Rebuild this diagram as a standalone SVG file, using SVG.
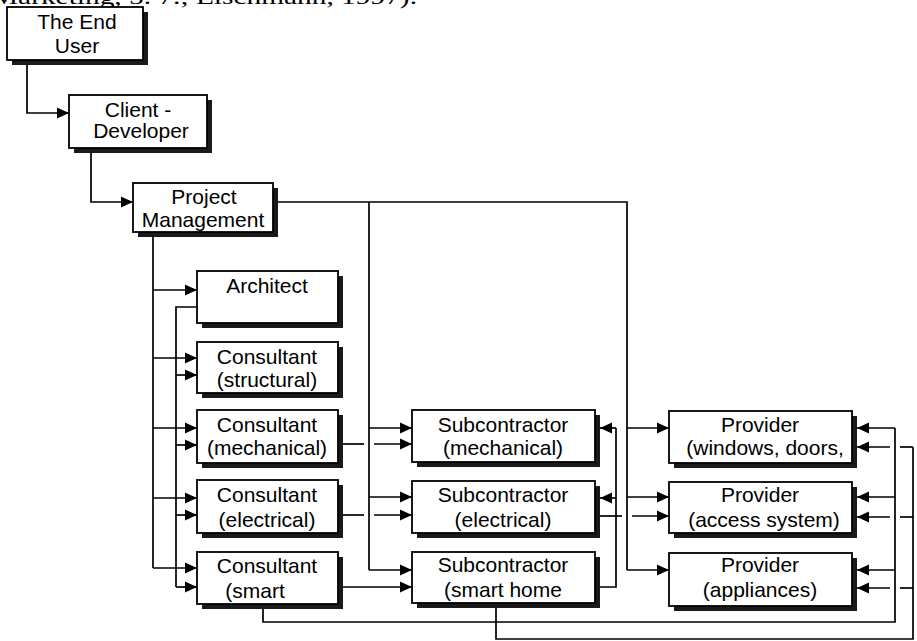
<svg xmlns="http://www.w3.org/2000/svg" width="917" height="641" viewBox="0 0 917 641">
<style>
.bg{fill:#fff}
.sh{fill:#1a1a1a}
.bx{fill:#fff;stroke:#000;stroke-width:1.8}
.t{font-family:"Liberation Sans",Arial,sans-serif;font-size:21px;fill:#000;text-anchor:middle}
.c{fill:none;stroke:#000;stroke-width:1.7}
.a{fill:none;stroke:#000;stroke-width:1.7;marker-end:url(#ah)}
.cap{font-family:"Liberation Serif","Times New Roman",serif;font-size:22px;fill:#000}
</style>
<defs>
<marker id="ah" markerUnits="userSpaceOnUse" markerWidth="13" markerHeight="12" refX="12" refY="6" orient="auto">
<path d="M0,0.5 L12,6 L0,11.5 z" fill="#000"/>
</marker>
</defs>
<rect class="bg" width="917" height="641"/>
<text class="cap" x="-8" y="4" textLength="425" lengthAdjust="spacingAndGlyphs">Marketing, 5. 7.; Eischmann, 1997).</text>

<g id="connectors">
<polyline class="a" points="27,60 27,113 69,113"/>
<polyline class="a" points="91,152 91,202 133,202"/>
<polyline class="c" points="278,202 627,202 627,570"/>
<line class="c" x1="369" y1="202" x2="369" y2="570"/>
<line class="c" x1="153" y1="236" x2="153" y2="568"/>
<polyline class="a" points="153,290 197,290"/>
<polyline class="a" points="153,358 197,358"/>
<polyline class="a" points="153,428 197,428"/>
<polyline class="a" points="153,498 197,498"/>
<polyline class="a" points="153,568 197,568"/>
<polyline class="c" points="197,307 176,307 176,587"/>
<polyline class="a" points="176,375 197,375"/>
<polyline class="a" points="176,445 197,445"/>
<polyline class="a" points="176,515 197,515"/>
<polyline class="a" points="176,587 197,587"/>
<line class="c" x1="343" y1="444" x2="364" y2="444"/>
<polyline class="a" points="374,444 412,444"/>
<line class="c" x1="343" y1="515" x2="364" y2="515"/>
<polyline class="a" points="374,515 412,515"/>
<polyline class="a" points="343,587 412,587"/>
<polyline class="a" points="369,428 412,428"/>
<polyline class="a" points="369,497 412,497"/>
<polyline class="a" points="369,570 412,570"/>
<polyline class="c" points="600,587 616,587 616,428"/>
<polyline class="a" points="616,428 600,428"/>
<polyline class="a" points="616,498 600,498"/>
<line class="c" x1="600" y1="516" x2="622" y2="516"/>
<polyline class="a" points="632,516 669,516"/>
<polyline class="a" points="627,428 669,428"/>
<polyline class="a" points="627,497 669,497"/>
<polyline class="a" points="627,570 669,570"/>
<polyline class="c" points="263,608 263,622 895,622 895,428"/>
<polyline class="a" points="895,428 857,428"/>
<polyline class="a" points="895,497 857,497"/>
<polyline class="a" points="895,570 857,570"/>
<polyline class="c" points="496,607 496,639 913,639 913,447"/>
<line class="c" x1="913" y1="447" x2="900" y2="447"/>
<polyline class="a" points="890,447 857,447"/>
<line class="c" x1="913" y1="517" x2="900" y2="517"/>
<polyline class="a" points="890,517 857,517"/>
<line class="c" x1="913" y1="588" x2="900" y2="588"/>
<polyline class="a" points="890,588 857,588"/>
</g>

<g id="end-user">
<rect class="sh" x="12" y="12" width="136" height="53"/>
<rect class="bx" x="7" y="7" width="136" height="53"/>
<text class="t" x="77" y="29">The End</text>
<text class="t" x="77" y="53">User</text>
</g>
<g id="client-developer">
<rect class="sh" x="74" y="100" width="138" height="53"/>
<rect class="bx" x="69" y="95" width="138" height="53"/>
<text class="t" x="138" y="117">Client -</text>
<text class="t" x="141" y="138">Developer</text>
</g>
<g id="project-management">
<rect class="sh" x="138" y="188" width="140" height="49"/>
<rect class="bx" x="133" y="183" width="140" height="49"/>
<text class="t" x="204" y="204">Project</text>
<text class="t" x="203" y="227">Management</text>
</g>
<g id="architect">
<rect class="sh" x="202" y="276" width="141" height="52"/>
<rect class="bx" x="197" y="271" width="141" height="52"/>
<text class="t" x="267" y="293">Architect</text>
</g>
<g id="consultant-structural">
<rect class="sh" x="202" y="347" width="141" height="51"/>
<rect class="bx" x="197" y="342" width="141" height="51"/>
<text class="t" x="267" y="364">Consultant</text>
<text class="t" x="267" y="387">(structural)</text>
</g>
<g id="consultant-mechanical">
<rect class="sh" x="202" y="415" width="141" height="53"/>
<rect class="bx" x="197" y="410" width="141" height="53"/>
<text class="t" x="267" y="432">Consultant</text>
<text class="t" x="267" y="455">(mechanical)</text>
</g>
<g id="consultant-electrical">
<rect class="sh" x="202" y="485" width="141" height="53"/>
<rect class="bx" x="197" y="480" width="141" height="53"/>
<text class="t" x="267" y="502">Consultant</text>
<text class="t" x="267" y="527">(electrical)</text>
</g>
<g id="consultant-smart">
<rect class="sh" x="202" y="557" width="141" height="52"/>
<rect class="bx" x="197" y="552" width="141" height="52"/>
<text class="t" x="267" y="573">Consultant</text>
<text class="t" x="255" y="598">(smart</text>
</g>
<g id="subcontractor-mechanical">
<rect class="sh" x="417" y="415" width="183" height="52"/>
<rect class="bx" x="412" y="410" width="183" height="52"/>
<text class="t" x="503" y="432">Subcontractor</text>
<text class="t" x="503" y="455">(mechanical)</text>
</g>
<g id="subcontractor-electrical">
<rect class="sh" x="417" y="486" width="183" height="52"/>
<rect class="bx" x="412" y="481" width="183" height="52"/>
<text class="t" x="503" y="502">Subcontractor</text>
<text class="t" x="503" y="527">(electrical)</text>
</g>
<g id="subcontractor-smart-home">
<rect class="sh" x="417" y="557" width="183" height="51"/>
<rect class="bx" x="412" y="552" width="183" height="51"/>
<text class="t" x="503" y="572">Subcontractor</text>
<text class="t" x="503" y="597">(smart home</text>
</g>
<g id="provider-windows">
<rect class="sh" x="674" y="416" width="183" height="52"/>
<rect class="bx" x="669" y="411" width="183" height="52"/>
<text class="t" x="760" y="432">Provider</text>
<text class="t" x="765" y="455">(windows, doors,</text>
</g>
<g id="provider-access">
<rect class="sh" x="674" y="487" width="183" height="51"/>
<rect class="bx" x="669" y="482" width="183" height="51"/>
<text class="t" x="760" y="502">Provider</text>
<text class="t" x="764" y="527">(access system)</text>
</g>
<g id="provider-appliances">
<rect class="sh" x="674" y="558" width="183" height="53"/>
<rect class="bx" x="669" y="553" width="183" height="53"/>
<text class="t" x="760" y="572">Provider</text>
<text class="t" x="760" y="597">(appliances)</text>
</g>
</svg>
